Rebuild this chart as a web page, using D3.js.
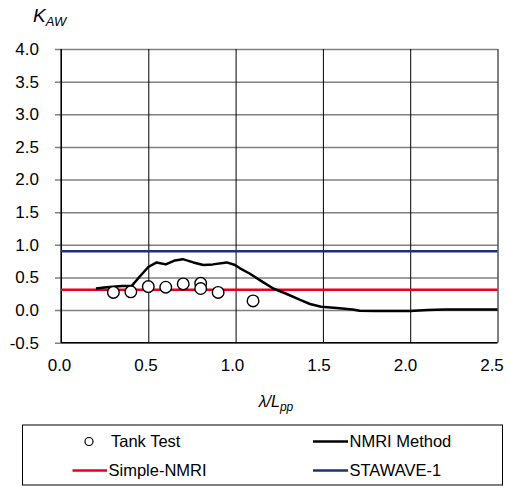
<!DOCTYPE html>
<html>
<head>
<meta charset="utf-8">
<script src="https://cdn.jsdelivr.net/npm/d3@7"></script>
<style>
  html, body { margin: 0; padding: 0; background: #fff; }
  svg { display: block; font-family: "Liberation Sans", Arial, sans-serif; }
</style>
</head>
<body>
<svg id="chart" width="508" height="486"></svg>
<script>
// Wavelength ratio ticks and coefficient ticks
const xTicks = [0.0, 0.5, 1.0, 1.5, 2.0, 2.5];
const yTicks = [-0.5, 0.0, 0.5, 1.0, 1.5, 2.0, 2.5, 3.0, 3.5, 4.0];

// Tank test measurements
const tankX = [0.3, 0.4, 0.5, 0.6, 0.7, 0.8, 0.8, 0.9, 1.1];
const tankY = [0.27, 0.28, 0.36, 0.35, 0.40, 0.41, 0.33, 0.27, 0.14];

// NMRI method curve
const nmriX = [0.2, 0.26, 0.35, 0.405, 0.45, 0.5, 0.548, 0.6, 0.653, 0.697, 0.758, 0.815, 0.87, 0.949, 0.997, 1.025, 1.08, 1.15, 1.216, 1.29, 1.37, 1.426, 1.49, 1.58, 1.67, 1.71, 1.8, 1.9, 2.0, 2.1, 2.2, 2.3, 2.4, 2.5];
const nmriY = [0.33, 0.35, 0.37, 0.37, 0.51, 0.66, 0.73, 0.70, 0.76, 0.78, 0.73, 0.69, 0.70, 0.73, 0.69, 0.64, 0.56, 0.44, 0.33, 0.25, 0.155, 0.093, 0.05, 0.03, 0.01, -0.01, -0.015, -0.015, -0.015, 0.0, 0.01, 0.01, 0.01, 0.01];

// Constant estimates
const simpleNmri = 0.31;
const stawave1 = 0.9;

const svg = d3.select("#chart");
const plotLeft = 61, plotRight = 497.5, plotTop = 49, plotBottom = 342.7;
const fontFamily = "'Liberation Sans', Arial, sans-serif";
const fmt = d => d3.format(".1f")(d).replace("\u2212", "-");

const x = d3.scaleLinear().domain([0, 2.5]).range([plotLeft, plotRight]);
const y = d3.scaleLinear().domain([-0.5, 4.0]).range([plotBottom, plotTop]);

// Horizontal gridlines with left tick marks
const yAxis = d3.axisLeft(y).tickValues(yTicks)
  .tickSize(-(plotRight - plotLeft)).tickSizeOuter(0)
  .tickFormat(fmt);
const gy = svg.append("g").attr("transform", `translate(${plotLeft},0)`).call(yAxis);
gy.attr("font-family", fontFamily);
gy.select(".domain").remove();
gy.selectAll(".tick line").attr("x1", -6).attr("stroke", "#808080").attr("stroke-width", 1.5);
gy.selectAll(".tick text").attr("font-size", 17).attr("fill", "#000").attr("x", -22);

// Vertical gridlines
const xAxis = d3.axisBottom(x).tickValues(xTicks)
  .tickSize(-(plotBottom - plotTop)).tickSizeOuter(0)
  .tickFormat(fmt);
const gx = svg.append("g").attr("transform", `translate(0,${plotBottom})`).call(xAxis);
gx.attr("font-family", fontFamily);
gx.select(".domain").remove();
gx.selectAll(".tick line").attr("stroke", "#000").attr("stroke-width", 1);
gx.selectAll(".tick text").attr("font-size", 17).attr("fill", "#000")
  .attr("x", (d, i) => -2 - i * 0.8).attr("y", 16).attr("dy", "0.71em");

// Plot frame axes
svg.append("line").attr("x1", plotLeft).attr("x2", plotLeft).attr("y1", plotTop).attr("y2", plotBottom)
  .attr("stroke", "#000").attr("stroke-width", 1.2);
svg.append("line").attr("x1", plotLeft).attr("x2", plotRight).attr("y1", plotBottom).attr("y2", plotBottom)
  .attr("stroke", "#000").attr("stroke-width", 1.2);

// Constant lines
svg.append("line").attr("x1", plotLeft).attr("x2", plotRight)
  .attr("y1", y(stawave1)).attr("y2", y(stawave1))
  .attr("stroke", "#1f2f7f").attr("stroke-width", 2.5);
svg.append("line").attr("x1", plotLeft).attr("x2", plotRight)
  .attr("y1", y(simpleNmri)).attr("y2", y(simpleNmri))
  .attr("stroke", "#e8001c").attr("stroke-width", 2.5);

// NMRI curve
const nmri = nmriX.map((d, i) => [d, nmriY[i]]);
svg.append("path").datum(nmri)
  .attr("d", d3.line().x(d => x(d[0])).y(d => y(d[1])))
  .attr("fill", "none").attr("stroke", "#000").attr("stroke-width", 2.5)
  .attr("stroke-linejoin", "round");

// Tank test markers
svg.append("g").selectAll("circle").data(tankX.map((d, i) => [d, tankY[i]]))
  .join("circle")
  .attr("cx", d => x(d[0])).attr("cy", d => y(d[1])).attr("r", 5.8)
  .attr("fill", "#fff").attr("stroke", "#000").attr("stroke-width", 1.4);

// Axis titles
const yt = svg.append("text").attr("x", 33).attr("y", 22).attr("font-size", 19)
  .attr("font-style", "italic");
yt.append("tspan").text("K");
yt.append("tspan").attr("font-size", 13).attr("dy", 4).text("AW");

const xt = svg.append("text").attr("x", 276).attr("y", 407).attr("font-size", 16)
  .attr("text-anchor", "middle").attr("font-style", "italic");
xt.append("tspan").text("λ/L");
xt.append("tspan").attr("font-size", 12).attr("dy", 4).text("pp");

// Legend
const legend = svg.append("g");
legend.append("rect").attr("x", 22.5).attr("y", 425).attr("width", 480).attr("height", 60)
  .attr("fill", "#fff").attr("stroke", "#000").attr("stroke-width", 1);
const legendFont = 16.5;
legend.append("circle").attr("cx", 89).attr("cy", 441.5).attr("r", 4)
  .attr("fill", "#fff").attr("stroke", "#000").attr("stroke-width", 1.2);
legend.append("text").attr("x", 111).attr("y", 441.5).attr("dy", "0.35em")
  .attr("font-size", legendFont).text("Tank Test");
const legendLines = [
  { x1: 313, x2: 348, yy: 441.5, color: "#000", label: "NMRI Method" },
  { x1: 72.5, x2: 107, yy: 470.5, color: "#e8001c", label: "Simple-NMRI" },
  { x1: 313, x2: 348, yy: 470.5, color: "#1f2f7f", label: "STAWAVE-1" }
];
legendLines.forEach(l => {
  legend.append("line").attr("x1", l.x1).attr("x2", l.x2).attr("y1", l.yy).attr("y2", l.yy)
    .attr("stroke", l.color).attr("stroke-width", 2.5);
  legend.append("text").attr("x", l.x2 + 1.5).attr("y", l.yy).attr("dy", "0.35em")
    .attr("font-size", legendFont).text(l.label);
});
</script>
</body>
</html>
